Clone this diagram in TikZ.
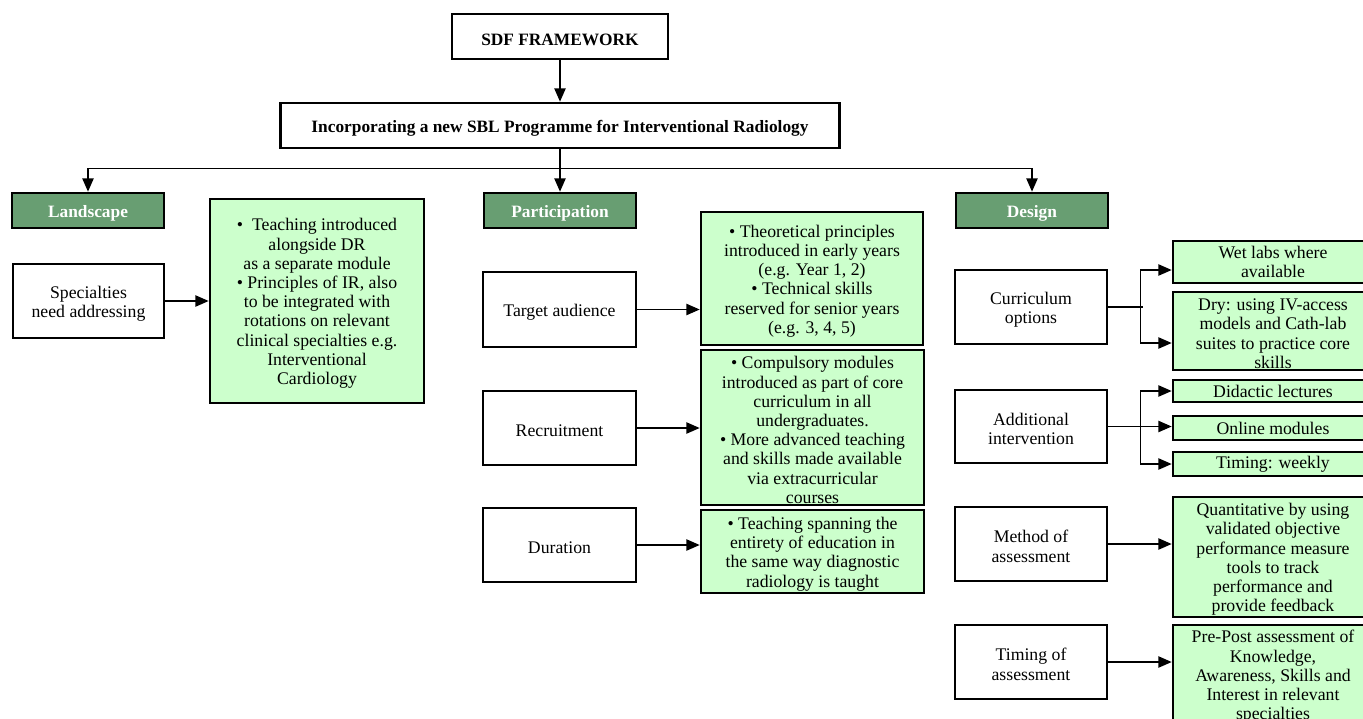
\documentclass[tikz,border=0pt]{standalone}
\usepackage{fontspec}
\setmainfont{Liberation Serif}
\usetikzlibrary{arrows.meta}
\definecolor{hdr}{RGB}{104,158,114}
\definecolor{lg}{RGB}{204,255,204}
\newcommand\tp{\rule{0pt}{13pt}}
\begin{document}
\begin{tikzpicture}[x=0.75pt,y=-0.75pt,
  sz/.style 2 args={minimum width={#1*0.75pt}, minimum height={#2*0.75pt}},
  dn/.style={execute at begin node={\rule{0pt}{13pt}}},
  box/.style={draw, line width=2pt, fill=white, inner sep=0pt, align=center, font=\fontsize{13.3}{14.4}\selectfont},
  tbox/.style={box, dn, font=\bfseries\fontsize{13}{14.4}\selectfont},
  hbox/.style={draw, line width=2pt, fill=hdr, text=white, inner sep=0pt, dn, font=\bfseries\fontsize{13}{14.4}\selectfont, sz={152}{35}},
  wbox/.style={box, dn},
  mbox/.style={box},
  gbox/.style={box, fill=lg},
  arr/.style={line width=1pt, -{Triangle[length=10pt,width=8.5pt]}},
  ln/.style={line width=1pt}
]
\clip (0,0) rectangle (1363,718);
\fill[white] (0,0) rectangle (1363,718);

% top
\node[tbox, sz={216}{45}] (sdf) at (560,36.5) {SDF FRAMEWORK};
\node[tbox, sz={559}{45}] (inc) at (560,125.5) {Incorporating a new SBL Programme for Interventional Radiology};

% headers
\node[hbox] (land) at (88,210.5) {Landscape};
\node[hbox] (part) at (560,210.5) {Participation};
\node[hbox] (des) at (1032,210.5) {Design};

% landscape column
\node[mbox, sz={151}{74}] (spec) at (88.5,301) {\tp Specialties\\ need addressing};
\node[gbox, sz={214}{204}] (gl) at (317,301) {\tp•\ \ Teaching introduced\\ alongside DR\\ as a separate module\\ • Principles of IR, also\\ to be integrated with\\ rotations on relevant\\ clinical specialties e.g.\\ Interventional\\ Cardiology};

% participation column
\node[wbox, sz={153}{75}] (ta) at (559.5,309.5) {Target audience};
\node[gbox, sz={222}{133}] (gta) at (812,278.5) {\tp• Theoretical principles\\ introduced in early years\\ (e.g. Year 1, 2)\\ • Technical skills\\ reserved for senior years\\ (e.g. 3, 4, 5)};
\node[wbox, sz={153}{74}] (rec) at (559.5,428) {Recruitment};
\node[gbox, sz={223}{155}] (grec) at (812.5,427.5) {\tp• Compulsory modules\\ introduced as part of core\\ curriculum in all\\ undergraduates.\\ • More advanced teaching\\ and skills made available\\ via extracurricular\\ courses};
\node[wbox, sz={153}{74}] (dur) at (559.5,545) {Duration};
\node[gbox, sz={223}{83}] (gdur) at (812.5,551.5) {\tp• Teaching spanning the\\ entirety of education in\\ the same way diagnostic\\ radiology is taught};

% design column
\node[mbox, sz={152}{74}] (cur) at (1031,307) {\tp Curriculum\\ options};
\node[gbox, sz={200}{42}] (wet) at (1273,262) {Wet labs where\\ available};
\node[gbox, sz={200}{78}] (dry) at (1273,331) {\tp Dry: using IV-access\\ models and Cath-lab\\ suites to practice core\\ skills};
\node[mbox, sz={152}{73}] (add) at (1031,426.5) {\tp Additional\\ intervention};
\node[gbox, sz={200}{22}] (did) at (1273,391) {Didactic lectures};
\node[gbox, sz={200}{24}] (onl) at (1273,428) {Online modules};
\node[gbox, sz={200}{24}] (tim) at (1273,464) {Timing: weekly};
\node[mbox, sz={152}{74}] (meth) at (1031,544) {\tp Method of\\ assessment};
\node[gbox, sz={200}{120}] (quant) at (1273,557) {\tp Quantitative by using\\ validated objective\\ performance measure\\ tools to track\\ performance and\\ provide feedback};
\node[mbox, sz={152}{74}] (tas) at (1031,662) {\tp Timing of\\ assessment};
\node[gbox, sz={200}{99}] (pre) at (1273,674.5) {\tp Pre-Post assessment of\\ Knowledge,\\ Awareness, Skills and\\ Interest in relevant\\ specialties};

% connectors
\draw[arr] (sdf) -- (inc);
\draw[arr] (inc) -- (part);
\draw[arr] (inc.south) -- ++(0,19) -| (land.north);
\draw[arr] (inc.south) -- ++(0,19) -| (des.north);

\draw[arr] (spec) -- (spec -| gl.west);
\draw[arr] (ta) -- (ta -| gta.west);
\draw[arr] (rec) -- (rec -| grec.west);
\draw[arr] (dur) -- (dur -| gdur.west);

\draw[ln] (cur.east) -- ++(35,0);
\coordinate (cj) at ([xshift=24pt]cur.east);
\draw[arr] (cj) |- ([yshift=-6pt]wet.west);
\draw[arr] (cj) |- ([yshift=-9pt]dry.west);

\draw[arr] (add) -- (add -| onl.west);
\coordinate (aj) at ([xshift=24pt]add.east);
\draw[arr] (aj) |- (did.west);
\draw[arr] (aj) |- (tim.west);

\draw[arr] (meth) -- (meth -| quant.west);
\draw[arr] (tas) -- (tas -| pre.west);
\end{tikzpicture}
\end{document}
